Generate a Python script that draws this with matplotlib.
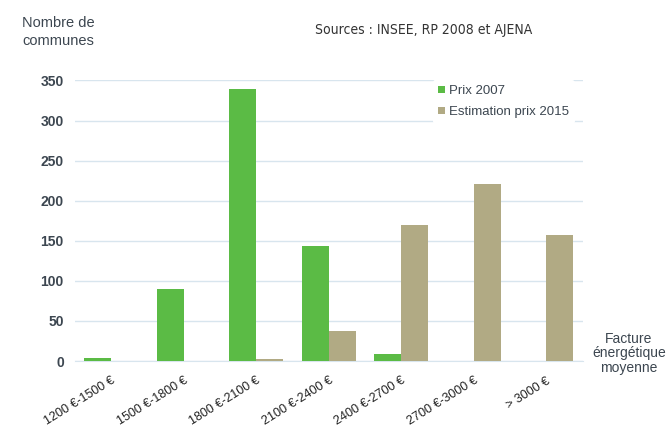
import matplotlib.pyplot as plt
import numpy as np

# data
categories = ['1200 €-1500 €', '1500 €-1800 €', '1800 €-2100 €', '2100 €-2400 €',
              '2400 €-2700 €', '2700 €-3000 €', '> 3000 €']
prix_2007 = [4, 90, 339, 143, 9, 0, 0]
prix_2015 = [0, 0, 2, 37, 170, 221, 157]

green = '#5bbb45'
tan = '#b1aa84'
txt = '#3c4650'

plt.rcParams['font.family'] = ['Liberation Sans', 'DejaVu Sans']

fig = plt.figure(figsize=(6.67, 4.28), dpi=100)
ax = fig.add_axes([0.1124, 0.1565, 0.761, 0.6555])

x = np.arange(len(categories))
w = 0.37
ax.bar(x - w / 2, prix_2007, width=w, color=green, label='Prix 2007', zorder=3)
ax.bar(x + w / 2, prix_2015, width=w, color=tan, label='Estimation prix 2015', zorder=3)

ax.set_xlim(-0.5, len(categories) - 0.5)
ax.set_ylim(0, 350)
ax.set_yticks(range(0, 351, 50))
ax.grid(axis='y', color='#d8e5ee', linewidth=1, zorder=0)
for s in ['top', 'right', 'left']:
    ax.spines[s].set_visible(False)
ax.spines['bottom'].set_color('#d8e5ee')
ax.tick_params(length=0)
ax.tick_params(axis='y', labelsize=10, labelcolor=txt, pad=8)
ax.set_yticklabels([str(v) for v in range(0, 351, 50)], fontweight='bold')
ax.set_xticks(x)
ax.set_xticklabels(categories, rotation=32, ha='right', rotation_mode='anchor',
                   fontsize=9, color='#222222')
ax.tick_params(axis='x', pad=10)

leg = ax.legend(loc='upper left', bbox_to_anchor=(0.705, 1.002), frameon=True,
                fontsize=9.5, handlelength=0.5, handleheight=0.5,
                handletextpad=0.35, labelspacing=0.7, borderaxespad=0)
leg.get_frame().set_facecolor('white')
leg.get_frame().set_edgecolor('none')
leg.get_frame().set_alpha(1)
for t in leg.get_texts():
    t.set_color(txt)

fig.text(0.033, 0.925, 'Nombre de\ncommunes', fontsize=10.5, color=txt,
         va='center', ha='left', multialignment='left', linespacing=1.3)
fig.text(0.473, 0.93, 'Sources : INSEE, RP 2008 et AJENA', fontsize=10,
         family='DejaVu Sans', fontstretch='condensed', color='#333333',
         va='center', ha='left')
fig.text(0.943, 0.175, 'Facture\nénergétique\nmoyenne', fontsize=10, color=txt,
         ha='center', va='center', linespacing=1.05)

fig.savefig('out.png', dpi=100)
